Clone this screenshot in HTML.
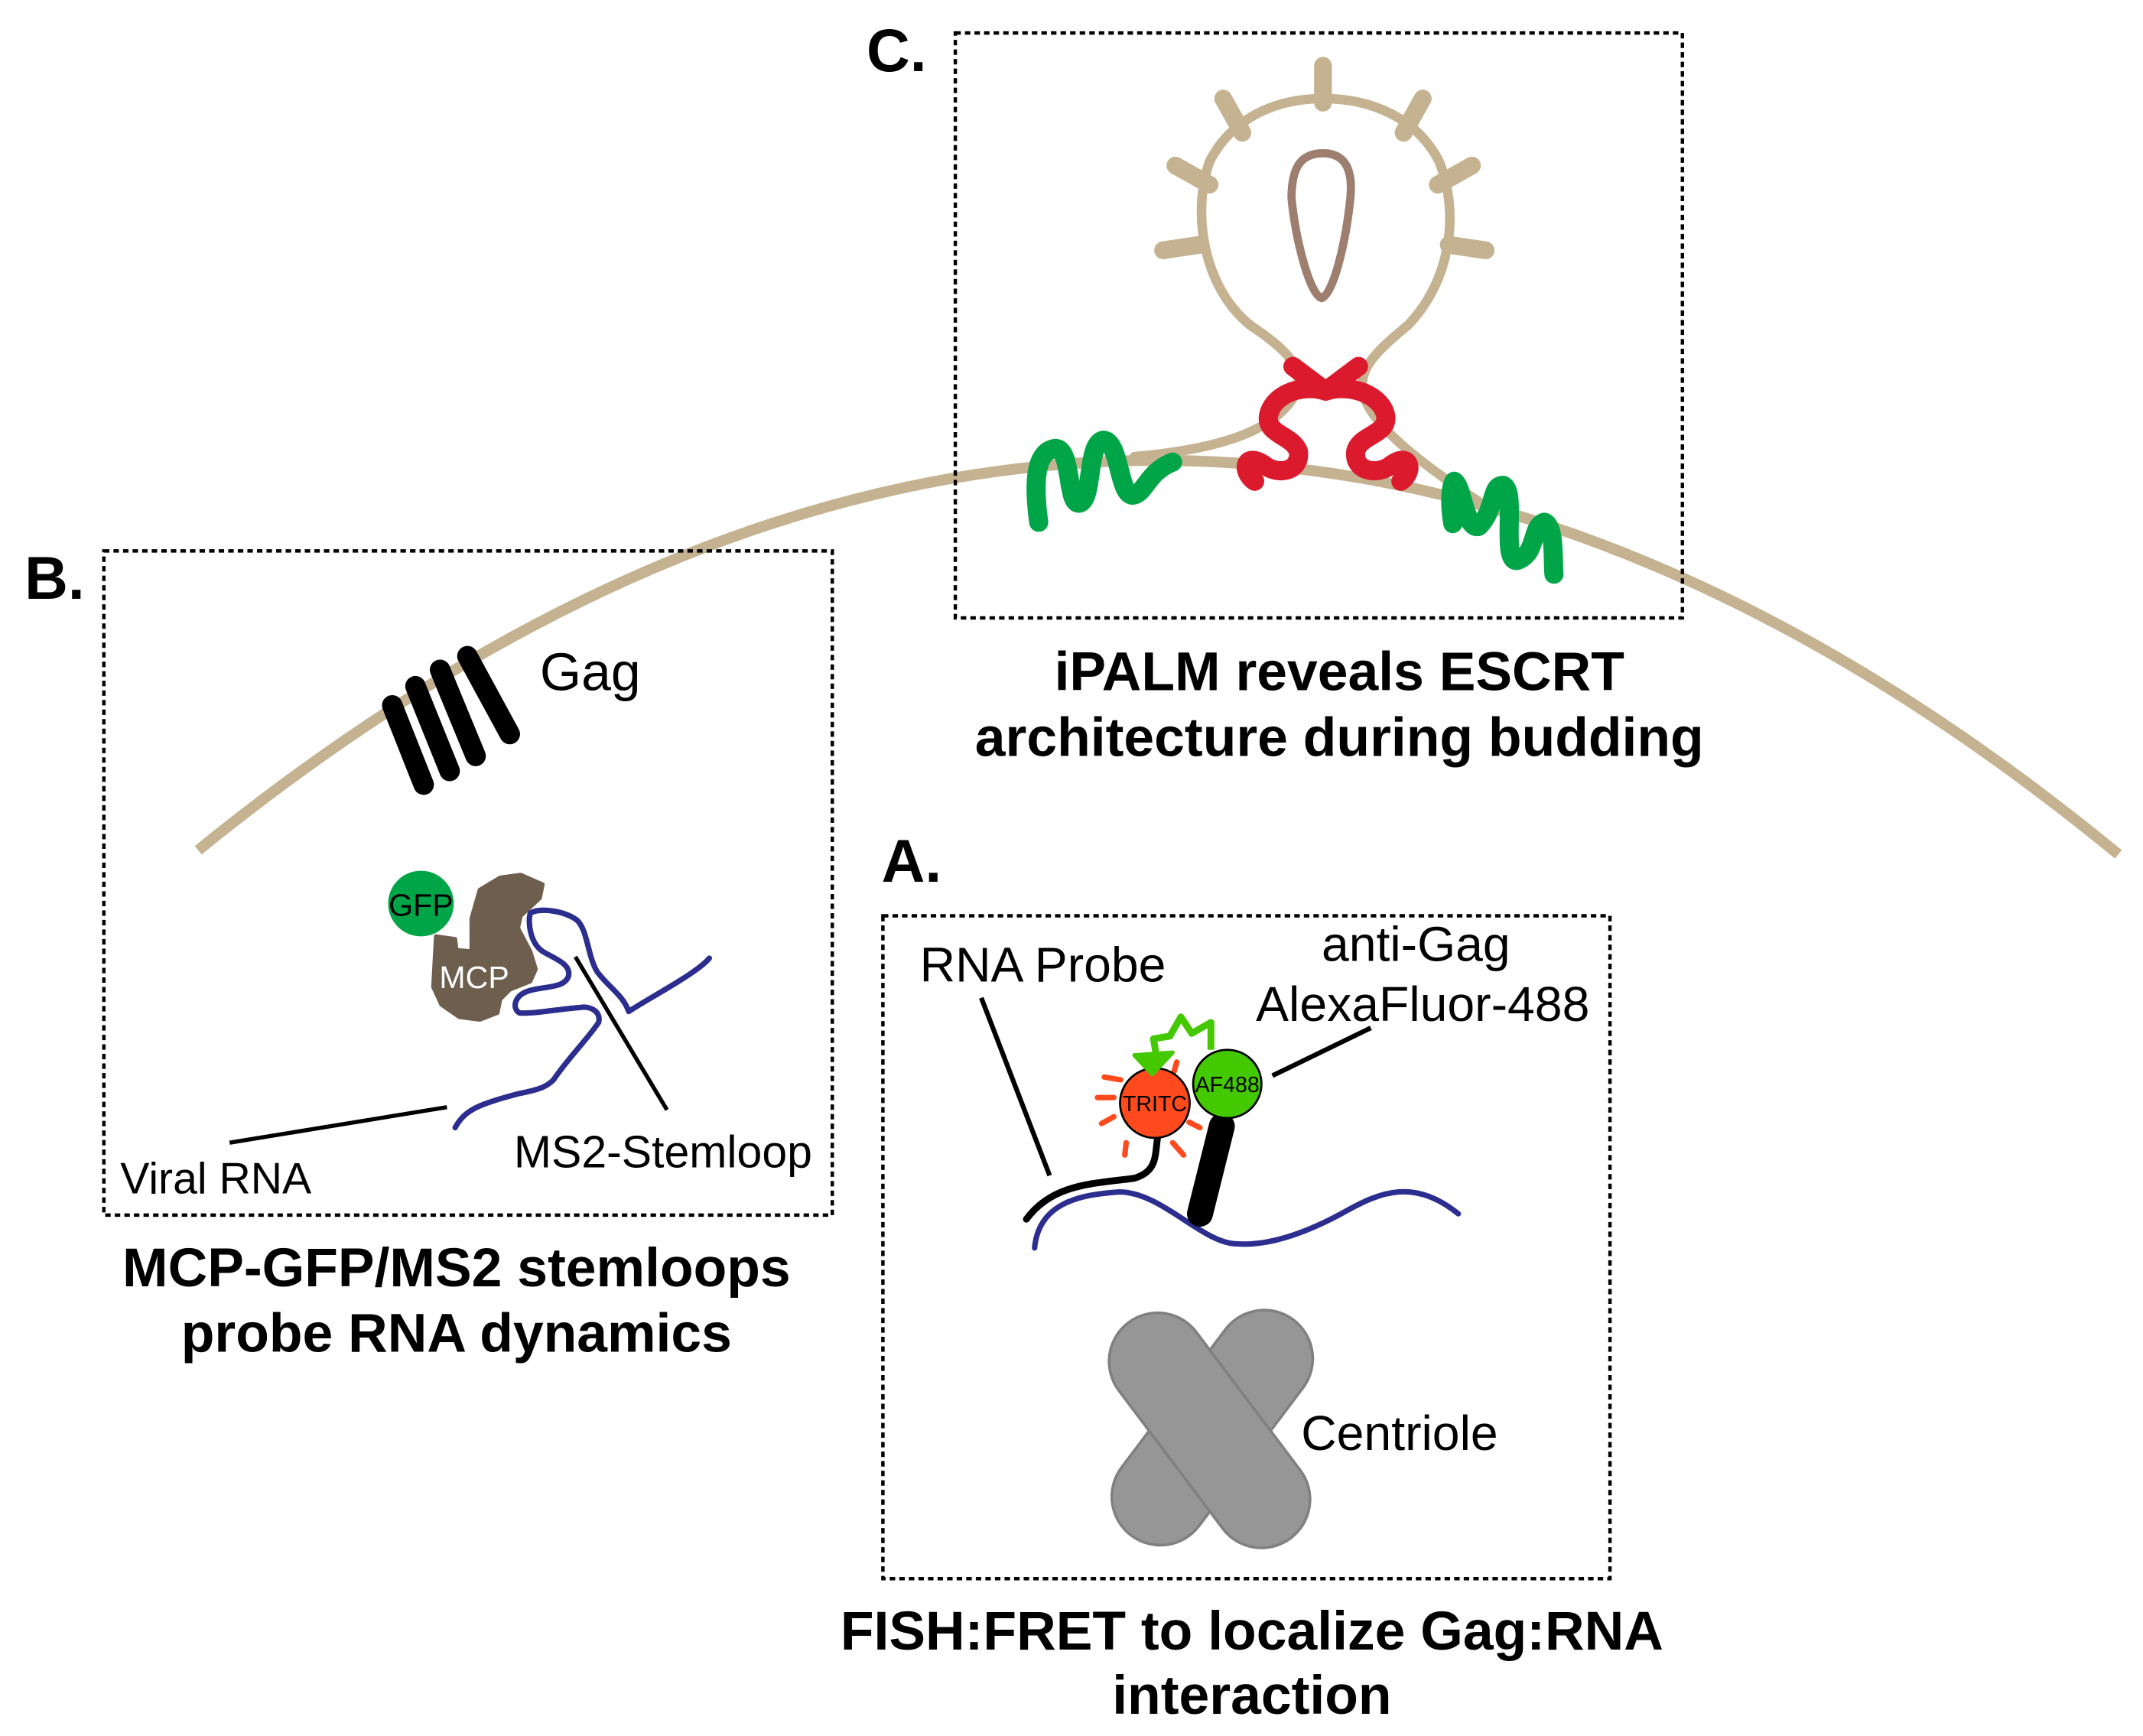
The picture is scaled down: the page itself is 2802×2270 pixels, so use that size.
<!DOCTYPE html>
<html><head><meta charset="utf-8"><style>html,body{margin:0;padding:0;background:#fff}svg{display:block}</style></head>
<body>
<svg width="2802" height="2270" viewBox="0 0 1568 1270" xmlns="http://www.w3.org/2000/svg" font-family="'Liberation Sans', Arial, sans-serif">
<rect width="1568" height="1270" fill="#fff"/>
<path d="M145,622 Q850,50 1550,625" fill="none" stroke="#c4b291" stroke-width="8"/>
<g fill="none" stroke="#000" stroke-width="2.5" stroke-dasharray="4,3">
<rect x="699" y="24" width="532" height="428"/>
<rect x="76" y="403" width="533" height="486"/>
<rect x="646" y="670" width="532" height="485"/>
</g>
<g font-weight="bold" font-size="44" fill="#000">
<text x="634" y="52">C.</text>
<text x="18" y="438">B.</text>
<text x="645" y="645">A.</text>
</g>
<g fill="none" stroke="#c4b291" stroke-linecap="round">
<path d="M830,334 C900,328 935,312 948,288 C954,270 945,258 915,238 C880,210 872,155 885,118 C902,85 935,72 968,72 C1002,72 1036,85 1053,118 C1068,155 1062,205 1030,238 C1003,260 993,272 998,290 C1005,312 1040,340 1090,372" stroke-width="7"/>
<g stroke-width="13">
<line x1="968" y1="48" x2="968" y2="75"/>
<line x1="1041" y1="72" x2="1027" y2="97"/>
<line x1="895" y1="72" x2="909" y2="97"/>
<line x1="1077" y1="121" x2="1052" y2="135"/>
<line x1="860" y1="121" x2="885" y2="135"/>
<line x1="1087" y1="183" x2="1060" y2="179"/>
<line x1="851" y1="183" x2="878" y2="179"/>
</g>
</g>
<path d="M968,112 C950,112 945,125 945,145 C948,175 958,215 967,218 C976,215 985,175 988,145 C990,125 985,112 968,112 Z" fill="none" stroke="#9e7e6e" stroke-width="6"/>
<g fill="none" stroke="#dc1a2e" stroke-width="14" stroke-linecap="round" stroke-linejoin="round">
<path d="M946,268 L970,286 L994,268"/>
<path d="M970,286 C950,280 930,290 928,305 C927,318 945,318 950,330 C952,345 935,348 925,340 C910,330 908,345 918,352"/>
<path d="M970,286 C990,280 1012,290 1014,305 C1015,318 995,318 992,330 C990,345 1008,348 1018,340 C1032,330 1035,345 1025,352"/>
</g>
<g fill="none" stroke="#00a547" stroke-width="14" stroke-linecap="round" stroke-linejoin="round">
<path d="M760,382 C755,345 760,330 772,328 C785,328 780,370 790,368 C800,365 795,325 807,322 C820,322 818,365 830,362 C838,360 840,345 858,338"/>
<path d="M1063,383 C1060,365 1062,355 1064,352 C1070,355 1072,388 1082,385 C1095,372 1090,355 1100,355 C1110,360 1098,410 1110,410 C1125,405 1120,385 1130,382 C1138,385 1136,410 1137,420"/>
</g>
<g font-weight="bold" font-size="40" text-anchor="middle" fill="#000">
<text x="980" y="505">iPALM reveals ESCRT</text>
<text x="980" y="553">architecture during budding</text>
<text x="334" y="941">MCP-GFP/MS2 stemloops</text>
<text x="334" y="989">probe RNA dynamics</text>
<text x="916" y="1207">FISH:FRET to localize Gag:RNA</text>
<text x="916" y="1254">interaction</text>
</g>
<g stroke="#000" stroke-width="15" stroke-linecap="round">
<line x1="287" y1="516" x2="310" y2="574"/>
<line x1="304" y1="502" x2="329" y2="564"/>
<line x1="322" y1="490" x2="348" y2="553"/>
<line x1="342" y1="480" x2="373" y2="537"/>
</g>
<text x="395" y="505" font-size="39">Gag</text>
<path d="M319,685 L333,687 L334,695 L345,696 L345,672 L351,651 L366,642 L381,640 L397,647 L395,657 L381,670 L379,679 L388,696 L392,709 L388,718 L373,724 L366,731 L364,741 L351,746 L336,744 L323,735 L317,722 Z" fill="#6e5e4e" stroke="#6e5e4e" stroke-width="3" stroke-linejoin="round"/>
<circle cx="308" cy="661" r="24" fill="#00a547"/>
<text x="308" y="670" font-size="23" text-anchor="middle">GFP</text>
<text x="347" y="723" font-size="23" text-anchor="middle" fill="#fff">MCP</text>
<path d="M333,825 C340,812 350,808 380,800 C395,797 400,795 405,790 C415,775 430,760 438,748 C440,740 432,736 425,737 C410,738 390,742 380,741 C375,738 376,730 384,726 C395,721 413,724 416,714 C418,705 405,701 397,696 C388,690 386,675 388,668 C395,664 412,666 422,673 C430,680 430,700 437,711 C445,722 456,728 460,740 C475,730 510,712 519,701" fill="none" stroke="#2b2e8e" stroke-width="4" stroke-linecap="round" stroke-linejoin="round"/>
<g stroke="#000" stroke-width="3">
<line x1="421" y1="700" x2="488" y2="812"/>
<line x1="168" y1="836" x2="327" y2="810"/>
</g>
<text x="88" y="873" font-size="32">Viral RNA</text>
<text x="376" y="854" font-size="33">MS2-Stemloop</text>
<text x="673" y="718" font-size="36">RNA Probe</text>
<text x="1036" y="703" font-size="36" text-anchor="middle">anti-Gag</text>
<text x="1041" y="747" font-size="36" text-anchor="middle">AlexaFluor-488</text>
<g stroke="#000" stroke-width="3.5" fill="none">
<line x1="718" y1="730" x2="768" y2="860"/>
<line x1="931" y1="787" x2="1003" y2="752"/>
</g>
<path d="M757,913 C760,880 790,874 819,872 C850,872 880,910 905,910 C930,912 960,900 985,886 C1010,872 1035,862 1067,888" fill="none" stroke="#2b2e8e" stroke-width="4" stroke-linecap="round"/>
<path d="M847,832 C845,845 847,857 830,862 C800,866 770,866 751,892" fill="none" stroke="#000" stroke-width="5" stroke-linecap="round"/>
<line x1="894" y1="824" x2="878" y2="888" stroke="#000" stroke-width="19" stroke-linecap="round"/>
<g stroke="#ff4a1e" stroke-width="4" stroke-linecap="round">
<line x1="808" y1="788" x2="820" y2="790"/>
<line x1="803" y1="803" x2="815" y2="803"/>
<line x1="806" y1="822" x2="815" y2="817"/>
<line x1="824" y1="836" x2="823" y2="845"/>
<line x1="858" y1="836" x2="866" y2="845"/>
<line x1="870" y1="821" x2="878" y2="825"/>
<line x1="861" y1="777" x2="859" y2="784"/>
</g>
<circle cx="845" cy="807" r="25.5" fill="#ff4a1e" stroke="#000" stroke-width="1.5"/>
<circle cx="898" cy="793" r="25" fill="#44c800" stroke="#000" stroke-width="1.5"/>
<text x="845" y="813" font-size="16" text-anchor="middle">TRITC</text>
<text x="898" y="799" font-size="16" text-anchor="middle">AF488</text>
<path d="M886,768 L886,748 L872,756 L864,744 L856,758 L844,760 L846,772" fill="none" stroke="#44c800" stroke-width="5" stroke-linejoin="round"/>
<path d="M830,772 L858,770 L843,786 Z" fill="#44c800" stroke="#44c800" stroke-width="3" stroke-linejoin="round"/>
<g stroke-linecap="round">
<line x1="925" y1="994" x2="849" y2="1095" stroke="#808080" stroke-width="73"/>
<line x1="925" y1="994" x2="849" y2="1095" stroke="#969696" stroke-width="69"/>
<line x1="847" y1="996" x2="923" y2="1097" stroke="#808080" stroke-width="73"/>
<line x1="847" y1="996" x2="923" y2="1097" stroke="#969696" stroke-width="69"/>
</g>
<text x="952" y="1061" font-size="36">Centriole</text>
</svg>
</body></html>
